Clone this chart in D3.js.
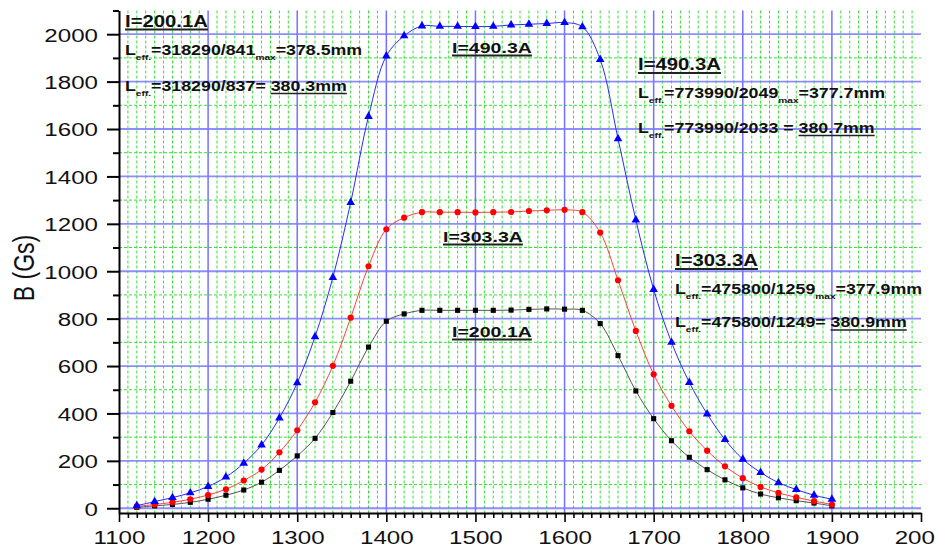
<!DOCTYPE html>
<html>
<head>
<meta charset="utf-8">
<script src="https://cdn.jsdelivr.net/npm/d3@7"></script>
<style>
body { margin: 0; background: #fff; }
svg { display: block; font-family: "Liberation Sans", Arial, sans-serif; }
</style>
</head>
<body>
<svg id="chart" width="935" height="549"></svg>
<script>
// Measurement positions along the magnet axis (mm)
const positions = [1120, 1140, 1160, 1180, 1200, 1220, 1240, 1260, 1280, 1300,
                   1320, 1340, 1360, 1380, 1400, 1420, 1440, 1460, 1480, 1500,
                   1520, 1540, 1560, 1580, 1600, 1620, 1640, 1660, 1680, 1700,
                   1720, 1740, 1760, 1780, 1800, 1820, 1840, 1860, 1880, 1900];

// Field B (Gs) for each excitation current
const field200 = [4, 10, 16, 25, 38, 55, 77, 110, 160, 221,
                  295, 404, 536, 680, 789, 820, 835, 835, 835, 835,
                  835, 836, 839, 841, 840, 835, 779, 644, 495, 378,
                  285, 215, 163, 120, 86, 60, 44, 32, 22, 10];
const field303 = [8, 16, 25, 38, 56, 80, 117, 163, 236, 329,
                  447, 601, 804, 1021, 1177, 1226, 1249, 1249, 1249, 1248,
                  1249, 1250, 1254, 1257, 1259, 1249, 1163, 962, 748, 565,
                  432, 325, 243, 177, 127, 90, 65, 46, 30, 16];
const field490 = [11, 28, 45, 65, 92, 132, 190, 267, 381, 529,
                  724, 974, 1290, 1653, 1908, 1993, 2035, 2033, 2033, 2032,
                  2033, 2039, 2042, 2045, 2049, 2031, 1893, 1559, 1216, 923,
                  700, 531, 398, 290, 207, 151, 108, 79, 55, 38];

const SX = 1.27; // horizontal stretch applied to all text

const svg = d3.select("#chart");
const x = d3.scaleLinear().domain([1100, 2000]).range([119, 921]);
const y = d3.scaleLinear().domain([-20, 2100]).range([513, 10.5]);

// ---- grid ----
const grid = svg.append("g");
const minorX = d3.range(1110, 2000, 10).filter(v => v % 100 !== 0);
const minorY = d3.range(100, 2000, 200);
grid.selectAll(".gx").data(minorX).enter().append("line")
    .attr("x1", d => x(d)).attr("x2", d => x(d))
    .attr("y1", y(2100)).attr("y2", y(-20))
    .attr("stroke", "#33e033").attr("stroke-width", 1).attr("stroke-dasharray", "3,2");
grid.selectAll(".gy").data(minorY).enter().append("line")
    .attr("x1", x(1100)).attr("x2", x(2000))
    .attr("y1", d => y(d)).attr("y2", d => y(d))
    .attr("stroke", "#33e033").attr("stroke-width", 1).attr("stroke-dasharray", "3,2");
grid.selectAll(".bx").data(d3.range(1200, 2000, 100)).enter().append("line")
    .attr("x1", d => x(d)).attr("x2", d => x(d))
    .attr("y1", y(2100)).attr("y2", y(-20))
    .attr("stroke", "#5a5aff").attr("stroke-width", 1.5).attr("opacity", 0.85);
grid.selectAll(".by").data(d3.range(0, 2001, 200)).enter().append("line")
    .attr("x1", x(1100)).attr("x2", x(2000))
    .attr("y1", d => y(d)).attr("y2", d => y(d))
    .attr("stroke", "#7a7aff").attr("stroke-width", 1.8).attr("opacity", 0.85);

// ---- axes ----
const xAxis = svg.append("g")
    .attr("transform", `translate(0,${y(-20)})`)
    .call(d3.axisBottom(x)
        .tickValues(d3.range(1100, 2001, 10))
        .tickFormat(d => d % 100 === 0 ? d : "")
        .tickSizeOuter(0));
xAxis.select(".domain").attr("stroke-width", 2);
xAxis.selectAll(".tick line")
    .attr("y2", d => d % 100 === 0 ? 9 : 5)
    .attr("stroke-width", 1.6);
xAxis.selectAll(".tick text")
    .attr("y", 31).attr("dy", 0)
    .attr("font-size", 19).attr("fill", "#111")
    .attr("font-family", "Liberation Sans, Arial, sans-serif")
    .attr("transform", `scale(${SX},1)`);

const yAxis = svg.append("g")
    .attr("transform", `translate(${x(1100)},0)`)
    .call(d3.axisLeft(y)
        .tickValues(d3.range(0, 2101, 100))
        .tickFormat(d => d % 200 === 0 ? d : "")
        .tickSizeOuter(0));
yAxis.select(".domain").attr("stroke-width", 2);
yAxis.selectAll(".tick line")
    .attr("x2", d => d % 200 === 0 ? -12 : -6)
    .attr("stroke-width", 2);
yAxis.selectAll(".tick text")
    .attr("x", -21 / SX).attr("dy", "0.36em")
    .attr("font-size", 19).attr("fill", "#111")
    .attr("font-family", "Liberation Sans, Arial, sans-serif")
    .attr("transform", `scale(${SX},1)`);

svg.append("text")
    .attr("transform", `translate(33.5,268) scale(${SX},1) rotate(-90)`)
    .attr("text-anchor", "middle")
    .attr("font-size", 23).attr("fill", "#111")
    .text("B (Gs)");

// ---- curves ----
const series = [
    { values: field200, line: "#555", fill: "#000", symbol: d3.symbolSquare, size: 26 },
    { values: field303, line: "#ff4040", fill: "#ff0000", symbol: d3.symbolCircle, size: 30 },
    { values: field490, line: "#2a2aff", fill: "#0000ff", symbol: d3.symbolTriangle, size: 32 }
];

const line = d3.line()
    .x((d, i) => x(positions[i]))
    .y(d => y(d))
    .curve(d3.curveCatmullRom);

series.forEach(s => {
    svg.append("path")
        .attr("d", line(s.values))
        .attr("fill", "none")
        .attr("stroke", s.line)
        .attr("stroke-width", 1);
    svg.append("g").selectAll("path")
        .data(s.values).enter().append("path")
        .attr("transform", (d, i) => `translate(${x(positions[i])},${y(d)})`)
        .attr("d", d3.symbol().type(s.symbol).size(s.size))
        .attr("fill", s.fill);
});

// ---- annotations ----
function note(px, py, parts, fontSize, ulWidth) {
    const g = svg.append("g").attr("transform", `translate(${px},${py}) scale(${SX},1)`);
    const text = g.append("text")
        .attr("font-weight", "bold")
        .attr("font-size", fontSize)
        .attr("fill", "#111");
    let shift = 0;
    parts.forEach(p => {
        const ts = text.append("tspan").text(p.t);
        const off = p.sub ? 5 : 0;
        if (off - shift) ts.attr("dy", off - shift);
        shift = off;
        if (p.sub) ts.attr("font-size", 8);
        p.node = ts.node();
    });
    let idx = 0;
    parts.forEach(p => {
        if (p.u) {
            const start = text.node().getStartPositionOfChar(idx).x;
            const len = p.node.getComputedTextLength();
            g.append("line")
                .attr("x1", start).attr("x2", start + len)
                .attr("y1", 3).attr("y2", 3)
                .attr("stroke", "#222").attr("stroke-width", ulWidth || 1.6);
        }
        idx += p.t.length;
    });
}

// 200.1 A block
note(125, 26.5, [{ t: "I=200.1A", u: true }], 16, 1.8);
note(125, 55, [{ t: "L" }, { t: "eff.", sub: true }, { t: "=318290/841" }, { t: "max", sub: true }, { t: "=378.5mm" }], 14);
note(125, 90.5, [{ t: "L" }, { t: "eff.", sub: true }, { t: "=318290/837= " }, { t: "380.3mm", u: true }], 14);

// 490.3 A block
note(638, 70, [{ t: "I=490.3A", u: true }], 16, 1.8);
note(638, 98, [{ t: "L" }, { t: "eff.", sub: true }, { t: "=773990/2049" }, { t: "max", sub: true }, { t: "=377.7mm" }], 14);
note(638, 132.5, [{ t: "L" }, { t: "eff.", sub: true }, { t: "=773990/2033 = " }, { t: "380.7mm", u: true }], 14);

// 303.3 A block
note(675, 266, [{ t: "I=303.3A", u: true }], 16, 1.8);
note(675, 294, [{ t: "L" }, { t: "eff.", sub: true }, { t: "=475800/1259" }, { t: "max", sub: true }, { t: "=377.9mm" }], 14);
note(675, 327, [{ t: "L" }, { t: "eff.", sub: true }, { t: "=475800/1249= " }, { t: "380.9mm", u: true }], 14);

// curve labels
note(452, 52.5, [{ t: "I=490.3A", u: true }], 15.4, 2.2);
note(443, 241.5, [{ t: "I=303.3A", u: true }], 15.4, 2.2);
note(452, 336.5, [{ t: "I=200.1A", u: true }], 15.4, 2.2);
</script>
</body>
</html>
